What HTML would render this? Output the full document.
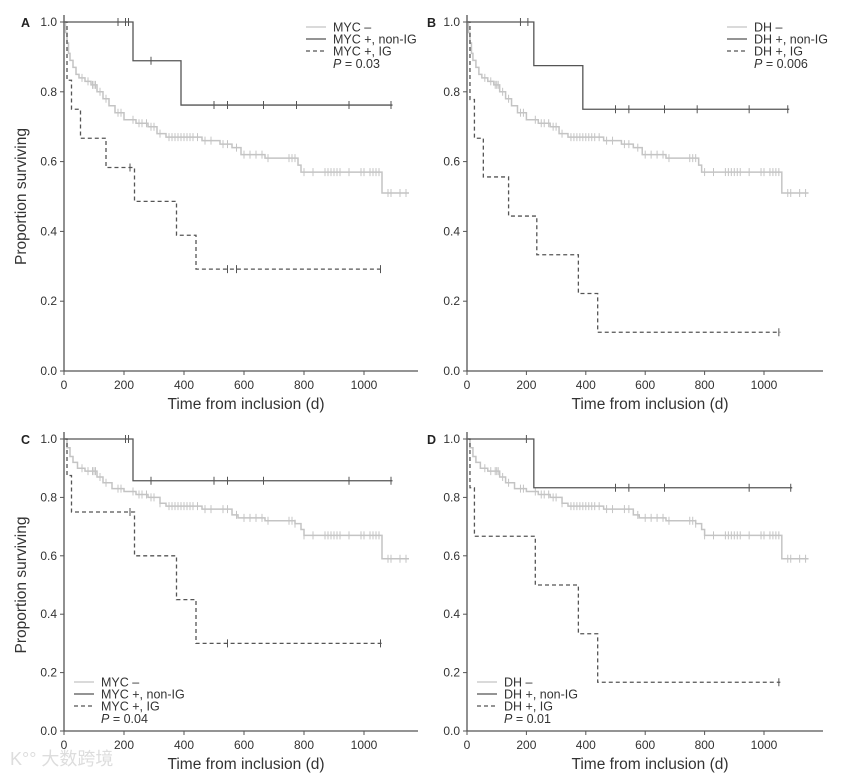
<!DOCTYPE html>
<html><head><meta charset="utf-8"><style>
body{margin:0;background:#fff;}
svg{display:block;font-family:"Liberation Sans",Arial,sans-serif;}
</style></head><body>
<svg id="c" width="848" height="773" viewBox="0 0 848 773"></svg>
<script>
const panelLabels=["A","B","C","D"];
const legendNames=[["MYC –","MYC +, non-IG","MYC +, IG"],["DH –","DH +, non-IG","DH +, IG"],["MYC –","MYC +, non-IG","MYC +, IG"],["DH –","DH +, non-IG","DH +, IG"]];
const pValues=["0.03","0.006","0.04","0.01"];
const xTicks=[0,200,400,600,800,1000];
const yTicks=[0,0.2,0.4,0.6,0.8,1.0];
const negTimesAB=[0,5,10,15,20,30,40,50,70,90,110,130,150,170,200,240,280,310,340,460,520,560,590,670,780,790,1060];
const negSurvAB=[1,0.97,0.94,0.91,0.89,0.87,0.85,0.84,0.83,0.82,0.80,0.78,0.76,0.74,0.72,0.71,0.70,0.68,0.67,0.66,0.65,0.64,0.62,0.61,0.59,0.57,0.51];
const negTimesCD=[0,10,20,30,45,70,110,130,160,200,240,280,320,340,460,560,580,670,770,790,800,1060];
const negSurvCD=[1,0.97,0.94,0.92,0.90,0.89,0.87,0.85,0.83,0.82,0.81,0.80,0.78,0.77,0.76,0.74,0.73,0.72,0.71,0.69,0.67,0.59];
const negCensor=[60,80,95,100,105,120,140,180,190,230,250,260,275,290,300,320,350,360,370,380,390,400,410,420,430,445,470,490,530,545,575,600,620,640,660,680,750,760,770,800,830,870,880,890,900,910,920,950,990,1000,1020,1030,1040,1050,1080,1090,1120,1140];
const nonIgTimes=[[0,230,390],[0,225,390],[0,230],[0,225]];
const nonIgSurv=[[1,0.889,0.762],[1,0.875,0.75],[1,0.857],[1,0.833]];
const nonIgCensor=[[180,205,215,290,500,545,665,775,950,1090],[180,205,500,545,665,775,950,1080],[205,215,290,500,545,665,950,1090],[200,500,545,665,950,1090]];
const igTimes=[[0,10,25,55,140,235,375,440],[0,10,25,55,140,235,375,440],[0,10,25,235,375,440],[0,10,25,230,375,440]];
const igSurv=[[1,0.833,0.75,0.667,0.583,0.486,0.389,0.292],[1,0.778,0.667,0.556,0.444,0.333,0.222,0.111],[1,0.875,0.75,0.6,0.45,0.3],[1,0.833,0.667,0.5,0.333,0.167]];
const igCensor=[[220,545,575,1055],[1050],[220,545,1055],[1050]];
const igEnd=[1060,1055,1060,1055];

const NS="http://www.w3.org/2000/svg";
const svg=document.getElementById("c");
function mk(tag,attrs,parent){const e=document.createElementNS(NS,tag);for(const k in attrs)e.setAttribute(k,attrs[k]);(parent||svg).appendChild(e);return e;}
const geo=[{x0:64,x1000:364,y1:22,y0:371,xEnd:418},{x0:467,x1000:764,y1:22,y0:371,xEnd:823},{x0:64,x1000:364,y1:439,y0:731,xEnd:418},{x0:467,x1000:764,y1:439,y0:731,xEnd:823}];
function survAt(times,surv,t){let s=surv[0];for(let i=0;i<times.length;i++){if(times[i]<=t)s=surv[i];}return s;}
for(let p=0;p<4;p++){
  const g=geo[p];
  const X=t=>g.x0+(g.x1000-g.x0)*t/1000;
  const Y=v=>g.y0-(g.y0-g.y1)*v;
  const grp=mk("g",{});
  
  
  const ax=mk("path",{d:`M${g.x0} ${g.y1-7}V${g.y0}H${g.xEnd}`,stroke:"#555",fill:"none","stroke-width":1.3},grp);
  
  xTicks.forEach(t=>{mk("line",{x1:X(t),x2:X(t),y1:g.y0,y2:g.y0+4,stroke:"#555"},grp);
    const tx=mk("text",{x:X(t),y:g.y0+18,"font-size":12,"text-anchor":"middle",fill:"#333"},grp);tx.textContent=t;
    });
  yTicks.forEach(v=>{mk("line",{x1:g.x0-4,x2:g.x0,y1:Y(v),y2:Y(v),stroke:"#555"},grp);
    const tx=mk("text",{x:g.x0-7,y:Y(v)+4,"font-size":12,"text-anchor":"end",fill:"#333"},grp);tx.textContent=v.toFixed(1);
    });
  const xt=mk("text",{x:(g.x0+g.xEnd)/2+5,y:g.y0+38,"font-size":15.5,"text-anchor":"middle",fill:"#333"},grp);xt.textContent="Time from inclusion (d)";
  
  if(p%2===0){const yt=mk("text",{x:0,y:0,"font-size":15.5,"text-anchor":"middle",fill:"#333",transform:`translate(${g.x0-38},${(g.y0+g.y1)/2}) rotate(-90)`},grp);yt.textContent="Proportion surviving";
    }
  const pl=mk("text",{x:g.x0-(p%2?40:43),y:g.y1+5,"font-size":12.5,"font-weight":"bold",fill:"#222"},grp);pl.textContent=panelLabels[p];
  
  function step(times,surv,end,attrs,name){
    let d=`M${X(times[0])} ${Y(surv[0])}`;
    for(let i=1;i<times.length;i++){d+=`H${X(times[i])}V${Y(surv[i])}`;}
    d+=`H${X(end)}`;
    const e=mk("path",Object.assign({d,fill:"none"},attrs),grp);
    
  }
  function cens(times,surv,cs,col,name){cs.forEach(t=>{const e=mk("line",{x1:X(t),x2:X(t),y1:Y(survAt(times,surv,t))-4,y2:Y(survAt(times,surv,t))+4,stroke:col,"stroke-width":1},grp);
    });}
  const nT=p<2?negTimesAB:negTimesCD, nS=p<2?negSurvAB:negSurvCD;
  step(nT,nS,1150,{stroke:"#c4c4c4","stroke-width":1.5},"negative-curve");
  cens(nT,nS,negCensor,"#c4c4c4","negative-censor");
  step(nonIgTimes[p],nonIgSurv[p],nonIgCensor[p][nonIgCensor[p].length-1]+5,{stroke:"#555","stroke-width":1.3},"non-ig-curve");
  cens(nonIgTimes[p],nonIgSurv[p],nonIgCensor[p],"#555","non-ig-censor");
  step(igTimes[p],igSurv[p],igEnd[p],{stroke:"#555","stroke-width":1.3,"stroke-dasharray":"4 3"},"ig-curve");
  cens(igTimes[p],igSurv[p],igCensor[p],"#555","ig-censor");
  let lx,ly;
  if(p<2){lx=p?727:306;ly=g.y1+5;}else{lx=g.x0+10;ly=g.y0-49;}
  const styles=[{stroke:"#c4c4c4"},{stroke:"#555"},{stroke:"#555","stroke-dasharray":"4 3"}];
  for(let i=0;i<3;i++){
    const yy=ly+i*12;
    mk("line",Object.assign({x1:lx,x2:lx+20,y1:yy,y2:yy,"stroke-width":1.3},styles[i]),grp);
    const t=mk("text",{x:lx+27,y:yy+4.5,"font-size":12.5,fill:"#333"},grp);t.textContent=legendNames[p][i];
    
  }
  const pt=mk("text",{x:lx+27,y:ly+41,"font-size":12.5,fill:"#333"},grp);
  pt.innerHTML='<tspan font-style="italic">P</tspan> = '+pValues[p];
  
}
const wm=mk("text",{x:10,y:765,"font-size":18,fill:"#ddd","font-family":"'Liberation Sans','Noto Sans CJK SC',sans-serif"});
wm.textContent="K°° 大数跨境";


</script>
</body></html>
